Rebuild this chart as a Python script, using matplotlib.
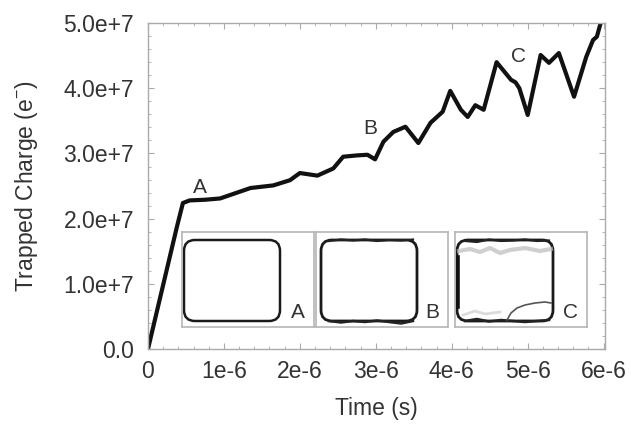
import matplotlib.pyplot as plt
from matplotlib.patches import FancyBboxPatch
from matplotlib.ticker import FixedLocator, MultipleLocator

plt.rcParams['font.family'] = ['Liberation Sans', 'DejaVu Sans']
plt.rcParams['mathtext.fontset'] = 'custom'
plt.rcParams['mathtext.rm'] = 'Liberation Sans'

# -------- data --------
time_us = [0, 0.38, 0.46, 0.55, 0.75, 0.95, 1.15, 1.35, 1.65, 1.87, 2.0, 2.23,
           2.44, 2.57, 2.75, 2.89, 2.99, 3.10, 3.23, 3.39, 3.56, 3.72, 3.88,
           3.98, 4.12, 4.21, 4.31, 4.42, 4.59, 4.78, 4.84, 4.89, 5.0, 5.17,
           5.28, 5.41, 5.61, 5.77, 5.86, 5.91, 5.96]
charge_e7 = [0, 1.87, 2.24, 2.28, 2.29, 2.31, 2.39, 2.47, 2.51, 2.59, 2.70, 2.66,
             2.77, 2.95, 2.97, 2.98, 2.91, 3.18, 3.33, 3.41, 3.16, 3.47, 3.64,
             3.96, 3.67, 3.56, 3.74, 3.67, 4.40, 4.13, 4.09, 4.00, 3.59, 4.51,
             4.39, 4.54, 3.87, 4.48, 4.74, 4.79, 5.0]

labels = ['A', 'B', 'C']
label_t = [0.69, 2.93, 4.88]
label_q = [2.48, 3.39, 4.48]

xtick_vals = [0, 1, 2, 3, 4, 5, 6]
xtick_labels = ['0', '1e-6', '2e-6', '3e-6', '4e-6', '5e-6', '6e-6']
ytick_vals = [0, 1, 2, 3, 4, 5]
ytick_labels = ['0.0', '1.0e+7', '2.0e+7', '3.0e+7', '4.0e+7', '5.0e+7']

# inset outlines: wobble of top / bottom edges (panel pixel units)
edge_x = [8, 20, 32, 44, 56, 68, 80, 92]
top_B = [86, 87.5, 86.5, 87.5, 86, 87, 86.5, 87.5]
bot_B = [6, 4.5, 6, 5, 6.5, 5, 3.5, 6]
top_C = [86, 85, 87.5, 86, 86.5, 87.5, 86, 86.5]
bot_C = [6, 8, 5.5, 7, 6, 5, 6, 7]

t = [v * 1e-6 for v in time_us]
q = [v * 1e7 for v in charge_e7]

fig = plt.figure(figsize=(6.31, 4.32), dpi=100)
ax = fig.add_axes([0.2345, 0.192, 0.7246, 0.7546])

ax.plot(t, q, color='#111111', lw=3.0, solid_joinstyle='round')
for lab, lt, lq in zip(labels, label_t, label_q):
    ax.text(lt * 1e-6, lq * 1e7, lab, fontsize=15, color='#333333',
            ha='center', va='center')

ax.set_xlim(0, 6.02e-6)
ax.set_ylim(0, 5e7)
ax.xaxis.set_major_locator(FixedLocator([v * 1e-6 for v in xtick_vals]))
ax.set_xticklabels(xtick_labels)
ax.yaxis.set_major_locator(FixedLocator([v * 1e7 for v in ytick_vals]))
ax.set_yticklabels(ytick_labels)
ax.xaxis.set_minor_locator(MultipleLocator(2e-7))
ax.yaxis.set_minor_locator(MultipleLocator(2e6))
ax.tick_params(which='both', direction='in', top=True, right=True,
               color='#aaaaaa', labelsize=16.5, labelcolor='#333333')
ax.tick_params(which='major', length=4)
ax.tick_params(which='minor', length=2.5)
ax.tick_params(axis='x', which='major', pad=8)
ax.tick_params(axis='y', which='major', pad=10)
for s in ax.spines.values():
    s.set_color('#aaaaaa')
    s.set_linewidth(1.0)

ax.set_xlabel('Time (s)', fontsize=16.5, color='#333333', labelpad=10)
ax.set_ylabel(r'Trapped Charge (e$^{-}$)', fontsize=16.5, color='#333333',
              labelpad=17)

# -------- insets --------
panel_left = [182, 316, 455]
wobble_top = [None, top_B, top_C]
wobble_bot = [None, bot_B, bot_C]
for i, lab in enumerate(labels):
    iax = fig.add_axes([panel_left[i] / 631, (432 - 327) / 432, 132 / 631, 95 / 432])
    iax.set_xlim(0, 132)
    iax.set_ylim(0, 95)
    iax.set_xticks([])
    iax.set_yticks([])
    for s in iax.spines.values():
        s.set_color('#b5b5b5')
        s.set_linewidth(1.2)
    x0 = 2 if i != 1 else 5
    box = FancyBboxPatch((x0, 6), 96, 81, boxstyle='round,pad=0,rounding_size=11',
                         fill=False, ec='#1a1a1a', lw=1.8 if i == 0 else 2.0)
    iax.add_patch(box)
    if wobble_top[i] is not None:
        xs = [x0 + v for v in edge_x]
        iax.plot(xs, wobble_top[i], color='#222222', lw=1.6)
        iax.plot(xs, wobble_bot[i], color='#222222', lw=1.8)
    if i == 2:
        # bump in lower right and faint smear near the top
        iax.plot([52, 56, 62, 70, 80, 90, 96], [7, 14, 19, 22, 24, 25, 24],
                 color='#555555', lw=1.2)
        iax.plot([4, 15, 25, 35, 45, 55, 70, 85, 96], [76, 78, 75, 79, 74, 77, 79, 76, 78],
                 color='#bbbbbb', lw=3, alpha=0.7)
        iax.plot([3, 3], [20, 70], color='#111111', lw=2.6)
        iax.plot([8, 20, 30, 45], [12, 16, 13, 15], color='#cccccc', lw=2, alpha=0.7)
    iax.text(116, 15, lab, fontsize=15, color='#333333', ha='center', va='center')

fig.savefig('out.png', dpi=100)
